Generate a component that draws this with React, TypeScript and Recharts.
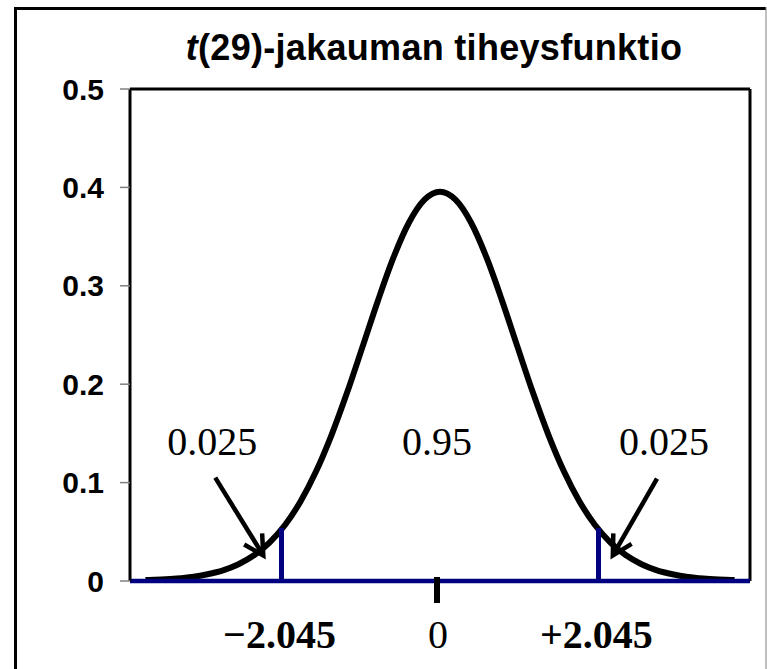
import React from 'react';
import { LineChart, Line, XAxis, YAxis, ReferenceLine, ReferenceDot } from 'recharts';

// t(29) density
const tValues = [-3.8, -3.6, -3.4, -3.2, -3.0, -2.8, -2.6, -2.4, -2.2, -2.0, -1.8, -1.6, -1.4, -1.2, -1.0, -0.8, -0.6, -0.4, -0.2, 0,
  0.2, 0.4, 0.6, 0.8, 1.0, 1.2, 1.4, 1.6, 1.8, 2.0, 2.2, 2.4, 2.6, 2.8, 3.0, 3.2, 3.4, 3.6, 3.8];
const density = [0.0009, 0.0016, 0.0026, 0.0042, 0.0069, 0.0109, 0.0171, 0.0261, 0.0391, 0.0569, 0.0808, 0.1112, 0.1483, 0.1912, 0.2379, 0.2851, 0.3288, 0.3643, 0.3875, 0.3956,
  0.3875, 0.3643, 0.3288, 0.2851, 0.2379, 0.1912, 0.1483, 0.1112, 0.0808, 0.0569, 0.0391, 0.0261, 0.0171, 0.0109, 0.0069, 0.0042, 0.0026, 0.0016, 0.0009];

const yTicks = [0, 0.1, 0.2, 0.3, 0.4, 0.5];
const xTicks = [-2.045, 0, 2.045];
const xTickLabels = ['\u22122.045', '0', '+2.045'];
const critical = 2.045;
const criticalHeight = 0.054;

const areaLabels = ['0.025', '0.95', '0.025'];
const areaLabelX = [-2.94, -0.04, 2.89];
const areaLabelY = 0.128;

// arrows: [fromX, fromY, toX, toY]
const arrows = [
  [-2.9, 0.105, -2.28, 0.026],
  [2.8, 0.104, 2.23, 0.026],
];

const data = tValues.map((x, i) => ({ x, y: density[i] }));

const NAVY = '#000080';

const Arrow = (props: any) => {
  const { x1, y1, x2, y2 } = props;
  const ang = Math.atan2(y2 - y1, x2 - x1);
  const len = 22;
  const spread = 0.5;
  const ax = x2 - len * Math.cos(ang - spread);
  const ay = y2 - len * Math.sin(ang - spread);
  const bx = x2 - len * Math.cos(ang + spread);
  const by = y2 - len * Math.sin(ang + spread);
  return (
    <g stroke="#000" strokeWidth={4.5} fill="none">
      <line x1={x1} y1={y1} x2={x2} y2={y2} />
      <polyline points={`${ax},${ay} ${x2},${y2} ${bx},${by}`} />
    </g>
  );
};

const XTick = (props: any) => {
  const { x, y, payload } = props;
  const idx = xTicks.indexOf(payload.value);
  const isZero = payload.value === 0;
  return (
    <g>
      {isZero && <line x1={x - 3} x2={x - 3} y1={y - 4} y2={y + 22} stroke="#000" strokeWidth={6} />}
      <text
        x={x - 2}
        y={y + 67}
        textAnchor="middle"
        fontFamily="'Liberation Serif', 'Times New Roman', serif"
        fontSize={40}
        fontWeight={isZero ? 'normal' : 'bold'}
        fill="#000"
      >
        {xTickLabels[idx]}
      </text>
    </g>
  );
};

export default function App() {
  return (
    <div style={{ position: 'absolute', left: 0, top: 0, width: 767, height: 669, background: '#fff', overflow: 'hidden' }}>
      <LineChart width={767} height={669} data={data} margin={{ top: 89, right: 17, left: 0, bottom: 0 }}>
        <XAxis
          dataKey="x"
          type="number"
          domain={[-4, 4]}
          ticks={xTicks}
          interval={0}
          height={88}
          tickSize={0}
          tickMargin={0}
          tickLine={false}
          axisLine={{ stroke: NAVY, strokeWidth: 4.5 }}
          tick={<XTick />}
        />
        <YAxis
          type="number"
          domain={[0, 0.5]}
          ticks={yTicks}
          width={130}
          tickSize={10}
          tickMargin={16}
          tickFormatter={(v: number) => (v === 0 ? '0' : String(v))}
          tickLine={{ stroke: '#808080', strokeWidth: 1.5 }}
          axisLine={{ stroke: '#000', strokeWidth: 3 }}
          tick={{ fill: '#000', fontSize: 30, fontWeight: 'bold', fontFamily: "'Liberation Sans', Arial, sans-serif" }}
        />
        <ReferenceLine y={0.5} stroke="#000" strokeWidth={3} />
        <ReferenceLine x={4} stroke="#000" strokeWidth={3} />
        <Line
          dataKey="y"
          type="monotone"
          stroke="#000"
          strokeWidth={6}
          dot={false}
          isAnimationActive={false}
        />
        <ReferenceLine segment={[{ x: -critical, y: 0 }, { x: -critical, y: criticalHeight }]} stroke={NAVY} strokeWidth={5} />
        <ReferenceLine segment={[{ x: critical, y: 0 }, { x: critical, y: criticalHeight }]} stroke={NAVY} strokeWidth={5} />
        {arrows.map((a, i) => (
          <ReferenceLine
            key={`arrow-${i}`}
            segment={[{ x: a[0], y: a[1] }, { x: a[2], y: a[3] }]}
            shape={(p: any) => <Arrow {...p} />}
          />
        ))}
        {areaLabels.map((lbl, i) => (
          <ReferenceDot
            key={`lbl-${i}`}
            x={areaLabelX[i]}
            y={areaLabelY}
            r={1}
            shape={(p: any) => (
              <text
                x={p.cx}
                y={p.cy}
                textAnchor="middle"
                fontFamily="'Liberation Serif', 'Times New Roman', serif"
                fontSize={40}
                fill="#000"
              >
                {lbl}
              </text>
            )}
          />
        ))}
      </LineChart>
      <svg width={767} height={669} style={{ position: 'absolute', left: 0, top: 0, pointerEvents: 'none' }}>
        <line x1={15.5} y1={7} x2={15.5} y2={669} stroke="#000" strokeWidth={3} />
        <line x1={14} y1={8.5} x2={766} y2={8.5} stroke="#000" strokeWidth={3} />
        <line x1={766} y1={7} x2={766} y2={669} stroke="#808080" strokeWidth={1} />
        <text
          x={434}
          y={60}
          textAnchor="middle"
          fontFamily="'Liberation Sans', Arial, sans-serif"
          fontSize={36}
          fontWeight="bold"
          letterSpacing={0.3}
          fill="#000"
        >
          <tspan fontStyle="italic">t</tspan>(29)-jakauman tiheysfunktio
        </text>
      </svg>
    </div>
  );
}
